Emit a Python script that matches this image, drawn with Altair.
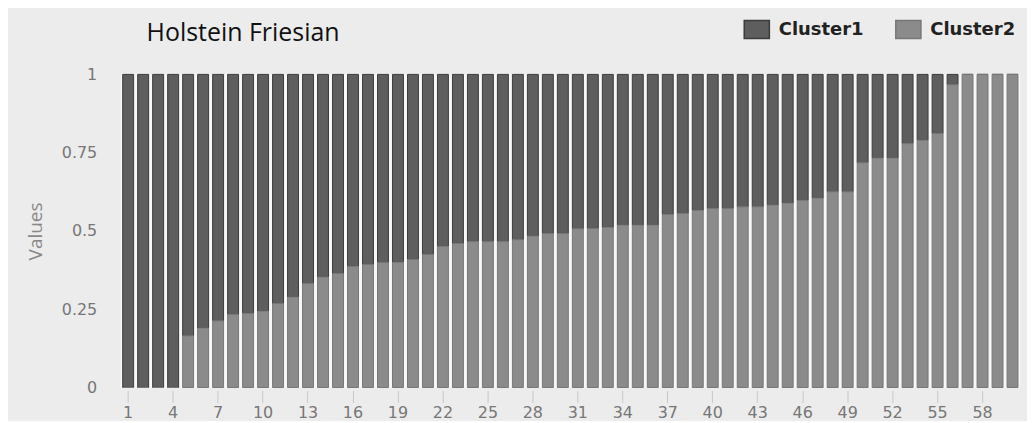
import altair as alt
import pandas as pd

# ---- data ----
samples = list(range(1, 61))
cluster2 = [0.0, 0.0, 0.0, 0.0, 0.165, 0.19, 0.213, 0.233, 0.237, 0.244,
            0.268, 0.289, 0.332, 0.353, 0.364, 0.387, 0.393, 0.399, 0.4, 0.409,
            0.425, 0.451, 0.46, 0.466, 0.466, 0.466, 0.472, 0.484, 0.492, 0.492,
            0.507, 0.508, 0.511, 0.519, 0.519, 0.519, 0.553, 0.556, 0.566, 0.572,
            0.572, 0.577, 0.577, 0.583, 0.589, 0.598, 0.605, 0.625, 0.625, 0.718,
            0.733, 0.733, 0.779, 0.79, 0.811, 0.967, 1.0, 1.0, 1.0, 1.0]
cluster1 = [1.0, 1.0, 1.0, 1.0, 0.835, 0.81, 0.787, 0.767, 0.763, 0.756,
            0.732, 0.711, 0.668, 0.647, 0.636, 0.613, 0.607, 0.601, 0.6, 0.591,
            0.575, 0.549, 0.54, 0.534, 0.534, 0.534, 0.528, 0.516, 0.508, 0.508,
            0.493, 0.492, 0.489, 0.481, 0.481, 0.481, 0.447, 0.444, 0.434, 0.428,
            0.428, 0.423, 0.423, 0.417, 0.411, 0.402, 0.395, 0.375, 0.375, 0.282,
            0.267, 0.267, 0.221, 0.21, 0.189, 0.033, 0.0, 0.0, 0.0, 0.0]
series = ["Cluster1", "Cluster2"]
stack_order = [1, 0]
x_ticks = list(range(1, 61, 3))
y_ticks = [0, 0.25, 0.5, 0.75, 1]

rows = []
for s, a, b in zip(samples, cluster1, cluster2):
    rows.append({"sample": s, "cluster": series[0], "value": a, "ord": stack_order[0]})
    rows.append({"sample": s, "cluster": series[1], "value": b, "ord": stack_order[1]})
df = pd.DataFrame(rows)

legend = alt.Legend(
    title=None, orient="none", direction="horizontal", legendX=628, legendY=-55,
    padding=0, symbolType="M-1.4,-1L1.4,-1L1.4,1L-1.4,1Z", symbolSize=324,
    symbolStrokeWidth=1.5, labelOffset=12, columnPadding=28,
    labelFont="DejaVu Sans", labelFontSize=18, labelFontWeight="bold", labelColor="#222",
)

chart = alt.Chart(
    df,
    title=alt.TitleParams("Holstein Friesian", anchor="start", frame="group", dx=26,
                          dy=46, offset=0, font="Open Sans", fontSize=25, fontWeight="normal",
                          color="#111", baseline="alphabetic"),
).mark_bar(strokeWidth=1).encode(
    x=alt.X("sample:O", sort=samples,
            scale=alt.Scale(paddingInner=0.27, paddingOuter=0.135),
            axis=alt.Axis(values=x_ticks, labelAngle=0, title=None, domain=False,
                          ticks=True, tickColor="#c8c8c8", tickSize=12, offset=3,
                          labelFont="DejaVu Sans", labelFontSize=16, labelColor="#777",
                          labelPadding=2, grid=False)),
    y=alt.Y("value:Q", stack="zero", scale=alt.Scale(domain=[0, 1], nice=False),
            axis=alt.Axis(values=y_ticks, format=".2~f", title="Values", grid=False,
                          domain=False, ticks=False, labelPadding=24,
                          labelFont="DejaVu Sans", labelFontSize=16, labelColor="#777",
                          titleFont="Open Sans", titleFontSize=19, titleFontWeight="normal",
                          titleColor="#888", titlePadding=16)),
    fill=alt.Fill("cluster:N", scale=alt.Scale(domain=series, range=["#5e5e5e", "#8b8b8b"]),
                  legend=legend),
    stroke=alt.Stroke("cluster:N", scale=alt.Scale(domain=series, range=["#3c3c3c", "#777777"]),
                      legend=legend),
    order=alt.Order("ord:Q"),
).properties(
    width=902, height=314,
    autosize=alt.AutoSizeParams(type="none"),
    padding={"left": 113, "top": 66, "right": 7, "bottom": 33},
    background="#ececec",
).configure_view(fill="#f8f8f8", stroke=None)

chart.save("out.html", embed_options={"renderer": "svg", "actions": False})
